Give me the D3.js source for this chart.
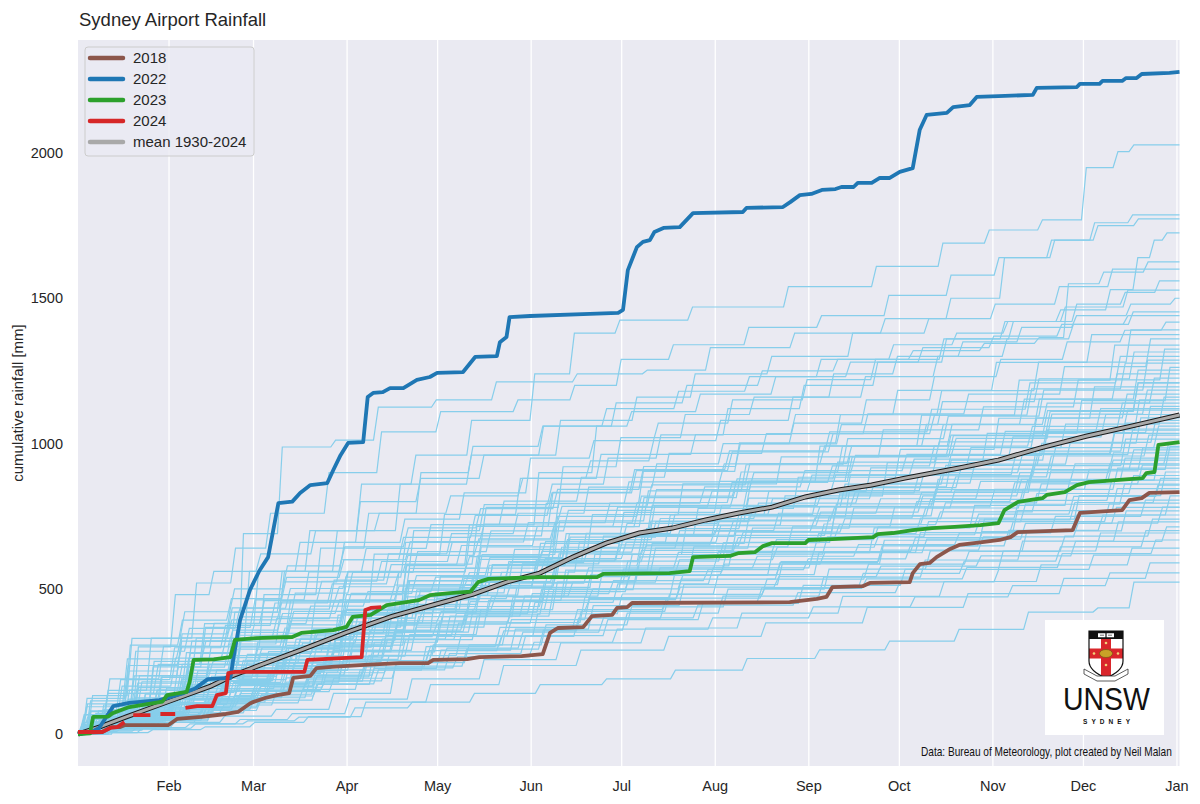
<!DOCTYPE html>
<html lang="en">
<head>
<meta charset="UTF-8">
<title>Sydney Airport Rainfall</title>
<script src="https://d3js.org/d3.v7.min.js"></script>
<style>
  body { margin: 0; background: #fff; }
  svg { display: block; font-family: "Liberation Sans", Arial, sans-serif; }
  .tick text { fill: #262626; }
</style>
</head>
<body>
<svg id="chart" width="1200" height="804"></svg>
<script>
// values are [day after Jan 1, cumulative mm]
const rain2018 = [[1,3],[9,7],[12,24],[15,24],[16.6,31],[31,31],[33.8,52],[42,59],[50,69],[54,76],[58,105],[59,110],[63,124],[67,134],[71,141],[72.3,193],[78,200],[80,227],[85,231],[96,238],[107.7,244],[117,244],[118.7,255],[130,258],[134,265],[148,268],[155,275],[157.4,348],[160,365],[168.4,368],[171.3,406],[178,410],[179.6,434],[183,437],[184.6,451],[236.8,454],[245.8,465],[249,472],[251,506],[261,509],[263.4,520],[276.6,523],[277.6,554],[280,585],[283.2,589],[285.5,609],[290,637],[293,651],[300,660],[306.4,668],[310,678],[312.4,695],[330.6,702],[333,761],[347,771],[349.4,805],[353.5,812],[356,830],[366,833]];

const rain2022 = [[1,0],[5,5],[8,21],[12.7,96],[18,107],[28,117],[36,141],[40,158],[44,189],[51.5,193],[52.4,255],[54.7,392],[58,496],[61,560],[64,609],[67.4,795],[72,800],[74.6,830],[78,857],[83.6,864],[85.6,909],[88,960],[90.5,1002],[95.5,1005],[97,1160],[98.8,1174],[102,1177],[104.4,1191],[108.8,1191],[113.3,1219],[117.6,1229],[120,1243],[128.6,1246],[132.6,1298],[139.8,1301],[140.8,1349],[143,1367],[144,1435],[150.8,1439],[170.6,1446],[180,1450],[181.6,1460],[183.2,1597],[186.2,1676],[188.2,1694],[190.5,1700],[192,1728],[195,1742],[200.4,1745],[204.8,1793],[221.3,1797],[222.5,1811],[234.6,1814],[237,1831],[240.2,1855],[244,1859],[247.5,1873],[252,1876],[254,1883],[258,1883],[259.4,1897],[264,1897],[266.7,1914],[270,1914],[273.3,1935],[277.6,1948],[279.9,2079],[282.2,2131],[288.9,2138],[291,2158],[296.5,2165],[298.8,2193],[306,2196],[317.4,2200],[318.7,2224],[332,2227],[333,2238],[339.5,2238],[340.5,2248],[347,2248],[348.3,2258],[351.8,2258],[353.5,2272],[362.7,2276],[366,2279]];

const rain2023 = [[1,0],[5,2],[6,59],[11,60],[12.5,72],[18,93],[25,105],[29,112],[30.5,134],[37,145],[38,180],[39.3,255],[46,257],[51.5,265],[53,324],[60,330],[72,334],[75,348],[85.6,358],[90,369],[92,403],[98,410],[103.3,444],[114,461],[117.6,478],[124.3,485],[131,490],[133.6,523],[137,534],[154,540],[173,540],[175,551],[197,554],[203.7,561],[204.8,609],[217,613],[220,623],[225.3,626],[228,647],[231,657],[242,657],[243,668],[251,671],[264.5,678],[266,688],[271,692],[277.6,702],[284,709],[291.5,713],[300,719],[306,726],[308,771],[312.5,799],[320.6,812],[322,823],[328,833],[332,857],[336,867],[353.8,881],[355,898],[357.7,902],[359,995],[366,1005]];

// null = missing days
const rain2024 = [[1,7],[9,7],[11.7,21],[14,24],[16.4,41],null,[19.3,65],[25,65],null,[28.3,69],[33.2,69],null,[36.6,90],[40.5,96],[45.5,96],[47,134],[50,141],[50.8,210],[53,214],[76,214],[77,255],[90,262],[95,265],[96.2,427],[98,434],[101.5,437]];

const meanRain = [[1,0],[8,24],[17,59],[31,112],[45,165],[52,200],[59,228],[75,290],[90,350],[105,405],[121,451],[132,482],[143,523],[154,554],[165,609],[176,657],[187,692],[198,709],[209,737],[220,761],[231,781],[242,816],[253,840],[264,857],[275,881],[293,916],[306,943],[320,985],[335,1025],[350,1060],[366,1098]];

// the other years 1930-2024
const otherYears = [
  [[1,0],[8,40],[25,140],[40,240],[58,380],[75,560],[92,700],[110,860],[128,960],[150,1080],[163,1240],[177,1380],[200,1425],[232,1470],[262,1540],[285,1610],[300,1690],[318,1735],[333,1770],[344,1950],[349,2005],[358,2028],[366,2028]],
  [[1,0],[12,60],[30,140],[45,240],[62,690],[72,988],[95,1012],[103,1125],[130,1150],[145,1212],[180,1240],[195,1253],[220,1330],[250,1380],[280,1430],[296,1500],[315,1640],[330,1700],[342,1760],[355,1787],[366,1787]],
  [[1,0],[6,30],[20,150],[35,330],[50,520],[58,640],[78,760],[96,900],[112,1040],[140,1110],[160,1150],[176,1200],[190,1290],[215,1340],[240,1400],[262,1440],[285,1510],[300,1580],[318,1640],[334,1700],[348,1750],[360,1773],[366,1773]],
  [[1,0],[15,60],[32,200],[48,300],[66,480],[85,640],[100,760],[118,900],[135,990],[160,1060],[180,1120],[205,1180],[228,1230],[252,1290],[276,1340],[296,1380],[312,1420],[330,1460],[346,1530],[353,1640],[358,1700],[362,1725],[366,1725]],
  [[1,0],[10,40],[28,140],[45,280],[60,420],[78,560],[95,700],[120,860],[142,960],[168,1060],[190,1140],[215,1200],[240,1250],[265,1290],[290,1320],[312,1345],[326,1365],[331,1550],[350,1590],[360,1625],[366,1625]],
  [[1,0],[18,80],[36,180],[54,330],[70,560],[90,660],[110,800],[130,880],[155,960],[182,1080],[200,1160],[225,1240],[252,1300],[278,1380],[300,1430],[322,1480],[340,1540],[356,1600],[366,1600]],
  [[1,0],[9,70],[24,200],[40,320],[56,420],[74,560],[96,660],[115,740],[135,830],[158,950],[178,1010],[200,1070],[226,1150],[250,1220],[272,1290],[295,1360],[318,1420],[338,1480],[352,1520],[362,1560],[366,1560]],
  [[1,0],[14,50],[31,160],[47,260],[64,340],[82,460],[103,560],[126,700],[150,790],[170,860],[186,950],[206,1030],[232,1120],[256,1200],[281,1280],[300,1360],[320,1420],[340,1470],[362,1528],[366,1528]],
  [[1,0],[7,30],[22,100],[40,240],[57,320],[73,400],[92,540],[112,660],[140,780],[165,920],[183,1020],[205,1100],[228,1160],[255,1240],[275,1300],[297,1350],[316,1400],[334,1440],[352,1480],[366,1500]],
  [[1,0],[12,80],[27,300],[37,480],[52,560],[68,620],[88,700],[110,760],[135,820],[158,880],[180,940],[200,1010],[224,1080],[248,1160],[272,1230],[296,1300],[318,1360],[340,1410],[358,1453],[366,1453]],
  [[1,0],[16,40],[33,120],[50,220],[66,300],[84,390],[104,480],[124,580],[147,720],[170,900],[178,1060],[200,1110],[225,1170],[250,1230],[274,1280],[298,1330],[320,1370],[344,1410],[360,1440],[366,1440]],
  [[1,0],[6,20],[21,120],[38,230],[55,310],[72,430],[90,530],[108,620],[130,690],[152,760],[176,850],[198,930],[220,1000],[244,1070],[268,1150],[290,1230],[312,1290],[334,1350],[352,1390],[364,1418],[366,1418]],
  [[1,0],[11,42],[29,125],[46,209],[62,292],[81,376],[100,459],[123,570],[148,668],[174,793],[205,904],[238,1002],[272,1099],[305,1182],[336,1280],[366,1391]],
  [[1,0],[6,28],[24,83],[41,151],[57,220],[76,316],[95,454],[118,619],[143,756],[169,880],[200,963],[233,1031],[267,1100],[300,1183],[331,1279],[366,1375]],
  [[1,0],[14,82],[32,231],[49,367],[65,462],[84,558],[103,639],[126,721],[151,802],[177,884],[208,966],[241,1034],[275,1102],[308,1170],[339,1265],[366,1360]],
  [[1,0],[8,27],[26,67],[43,121],[59,174],[78,254],[97,335],[120,428],[145,536],[171,656],[202,763],[235,870],[269,991],[302,1098],[333,1218],[366,1339]],
  [[1,0],[13,40],[31,119],[48,199],[64,278],[83,358],[102,437],[125,543],[150,636],[176,755],[207,861],[240,954],[274,1047],[307,1126],[338,1219],[366,1325]],
  [[1,0],[9,132],[27,329],[44,421],[60,500],[79,579],[98,644],[121,710],[146,776],[172,842],[203,921],[236,999],[270,1065],[303,1144],[334,1223],[366,1315]],
  [[1,0],[15,26],[33,78],[50,143],[66,208],[85,299],[104,429],[127,585],[152,715],[178,832],[209,910],[242,975],[276,1040],[309,1118],[340,1209],[366,1300]],
  [[1,0],[5,39],[23,116],[40,193],[56,270],[75,347],[94,425],[117,528],[142,618],[168,734],[199,837],[232,927],[266,1017],[299,1094],[330,1184],[366,1287]],
  [[1,0],[10,77],[28,217],[45,345],[61,434],[80,524],[99,600],[122,677],[147,753],[173,830],[204,907],[237,971],[271,1034],[304,1098],[335,1188],[366,1277]],
  [[1,0],[12,25],[30,63],[47,114],[63,164],[82,240],[101,316],[124,404],[149,505],[175,618],[206,719],[239,820],[273,934],[306,1035],[337,1148],[366,1262]],
  [[1,0],[7,38],[25,113],[42,188],[58,263],[77,338],[96,413],[119,514],[144,601],[170,714],[201,814],[234,902],[268,990],[301,1065],[332,1153],[366,1253]],
  [[1,0],[11,25],[29,74],[46,136],[62,198],[81,285],[100,409],[123,558],[148,682],[174,794],[205,868],[238,930],[272,992],[305,1066],[336,1153],[366,1240]],
  [[1,0],[4,123],[22,306],[39,392],[55,466],[74,539],[93,600],[116,662],[141,723],[167,784],[198,858],[231,931],[265,992],[298,1066],[329,1139],[366,1225]],
  [[1,0],[14,36],[32,109],[49,181],[65,254],[84,326],[103,399],[126,495],[151,580],[177,689],[208,785],[241,870],[275,954],[308,1027],[339,1111],[366,1208]],
  [[1,0],[6,24],[24,60],[41,108],[57,155],[76,227],[95,299],[118,382],[143,478],[169,586],[200,681],[233,777],[267,884],[300,980],[331,1087],[366,1195]],
  [[1,0],[9,71],[27,201],[44,320],[60,403],[79,485],[98,556],[121,628],[146,699],[172,770],[203,841],[236,900],[270,959],[303,1018],[334,1101],[366,1184]],
  [[1,0],[13,23],[31,70],[48,129],[64,187],[83,269],[102,386],[125,527],[150,644],[176,749],[207,819],[240,878],[274,936],[307,1006],[338,1088],[366,1170]],
  [[1,0],[8,35],[26,104],[43,174],[59,244],[78,313],[97,383],[120,476],[145,557],[171,661],[202,754],[235,835],[269,916],[302,986],[333,1067],[366,1160]],
  [[1,0],[11,23],[29,58],[46,104],[62,150],[81,219],[100,288],[123,368],[148,460],[174,564],[205,656],[238,748],[272,851],[305,943],[336,1047],[366,1150]],
  [[1,0],[15,114],[33,285],[50,364],[66,433],[85,501],[104,558],[127,615],[152,672],[178,729],[209,797],[242,866],[276,923],[309,991],[340,1059],[366,1139]],
  [[1,0],[5,34],[23,102],[40,169],[56,237],[75,305],[94,372],[117,462],[142,541],[168,643],[199,733],[232,812],[266,891],[299,959],[330,1038],[366,1128]],
  [[1,0],[10,22],[28,67],[45,123],[61,178],[80,256],[99,368],[122,502],[147,613],[173,714],[204,781],[237,836],[271,892],[304,959],[335,1037],[366,1115]],
  [[1,0],[12,66],[30,187],[47,297],[63,374],[82,451],[101,517],[124,583],[149,649],[175,715],[206,781],[239,836],[273,891],[306,946],[337,1023],[366,1100]],
  [[1,0],[7,33],[25,98],[42,163],[58,228],[77,294],[96,359],[119,446],[144,522],[170,620],[201,707],[234,783],[268,860],[301,925],[332,1001],[366,1088]],
  [[1,0],[14,21],[32,54],[49,96],[65,139],[84,203],[103,268],[126,342],[151,428],[177,524],[208,610],[241,696],[275,792],[308,877],[339,974],[366,1070]],
  [[1,0],[6,21],[24,64],[41,117],[57,170],[76,244],[95,350],[118,477],[143,583],[169,678],[200,742],[233,795],[267,848],[300,912],[331,986],[366,1060]],
  [[1,0],[9,31],[27,94],[44,157],[60,220],[79,282],[98,345],[121,429],[146,502],[172,596],[203,680],[236,753],[270,826],[303,889],[334,962],[366,1046]],
  [[1,0],[13,104],[31,259],[48,331],[64,393],[83,455],[102,507],[125,559],[150,611],[176,662],[207,725],[240,787],[274,838],[307,900],[338,963],[366,1035]],
  [[1,0],[8,62],[26,175],[43,278],[59,350],[78,422],[97,484],[120,545],[145,607],[171,669],[202,731],[235,782],[269,833],[302,885],[333,957],[366,1029]],
  [[1,0],[11,20],[29,51],[46,91],[62,132],[81,193],[100,254],[123,325],[148,406],[174,497],[205,579],[238,660],[272,751],[305,832],[336,924],[366,1015]],
  [[1,0],[15,30],[33,89],[50,149],[66,208],[85,267],[104,327],[127,406],[152,475],[178,564],[209,644],[242,713],[276,782],[309,842],[340,911],[366,990]],
  [[1,0],[5,20],[23,59],[40,108],[56,156],[75,225],[94,323],[117,440],[142,538],[168,626],[199,685],[232,734],[266,782],[299,841],[330,910],[366,978]],
  [[1,0],[10,58],[28,165],[45,261],[61,329],[80,397],[99,455],[122,513],[147,571],[173,629],[204,687],[237,736],[271,784],[304,832],[335,900],[366,968]],
  [[1,0],[12,19],[30,48],[47,86],[63,125],[82,182],[101,240],[124,307],[149,384],[175,470],[206,547],[239,624],[273,710],[306,787],[337,874],[366,960]],
  [[1,0],[7,29],[25,86],[42,143],[58,200],[77,257],[96,314],[119,390],[144,456],[170,542],[201,618],[234,684],[268,751],[301,808],[332,874],[366,950]],
  [[1,0],[14,94],[32,236],[49,302],[65,358],[84,415],[103,462],[126,509],[151,556],[177,604],[208,660],[241,717],[275,764],[308,820],[339,877],[366,943]],
  [[1,0],[6,19],[24,56],[41,102],[57,148],[76,213],[95,306],[118,417],[143,509],[169,593],[200,648],[233,695],[267,741],[300,796],[331,861],[366,926]],
  [[1,0],[9,27],[27,82],[44,137],[60,192],[79,247],[98,302],[121,375],[146,439],[172,522],[203,595],[236,659],[270,723],[303,778],[334,842],[366,915]],
  [[1,0],[13,18],[31,45],[48,81],[64,117],[83,171],[102,226],[125,289],[150,361],[176,442],[207,514],[240,586],[274,667],[307,740],[338,821],[366,902]],
  [[1,0],[8,53],[26,151],[43,240],[59,303],[78,365],[97,418],[120,472],[145,525],[171,579],[202,632],[235,676],[269,721],[302,765],[333,828],[366,890]],
  [[1,0],[11,26],[29,79],[46,131],[62,184],[81,236],[100,288],[123,358],[148,420],[174,498],[205,568],[238,629],[272,690],[305,743],[336,804],[366,874]],
  [[1,0],[15,17],[33,51],[50,94],[66,137],[85,197],[104,283],[127,386],[152,471],[178,548],[209,600],[242,643],[276,686],[309,737],[340,797],[366,857]],
  [[1,0],[5,17],[23,42],[40,76],[56,110],[75,161],[94,211],[117,270],[142,338],[168,414],[199,482],[232,549],[266,625],[299,693],[330,769],[366,845]],
  [[1,0],[10,25],[28,74],[45,123],[61,172],[80,221],[99,271],[122,336],[147,394],[173,467],[204,533],[237,590],[271,648],[304,697],[335,754],[366,820]],
  [[1,0],[12,48],[30,137],[47,217],[63,274],[82,330],[101,378],[124,427],[149,475],[175,523],[206,572],[239,612],[273,652],[306,692],[337,749],[366,805]],
  [[1,0],[7,24],[25,72],[42,119],[58,167],[77,215],[96,262],[119,326],[144,382],[170,453],[201,517],[234,572],[268,628],[301,676],[332,731],[366,795]],
  [[1,0],[14,78],[32,195],[49,250],[65,297],[84,344],[103,383],[126,422],[151,461],[177,500],[208,547],[241,594],[275,633],[308,679],[339,726],[366,781]],
  [[1,0],[6,15],[24,38],[41,69],[57,100],[76,146],[95,192],[118,246],[143,307],[169,376],[200,438],[233,499],[267,568],[300,630],[331,699],[366,768]],
  [[1,0],[9,15],[27,45],[44,83],[60,121],[79,173],[98,249],[121,339],[146,415],[172,483],[203,528],[236,566],[270,603],[303,648],[334,701],[366,754]],
  [[1,0],[13,22],[31,67],[48,111],[64,155],[83,200],[102,244],[125,303],[150,355],[176,422],[207,481],[240,533],[274,585],[307,629],[338,681],[366,740]],
  [[1,0],[8,8],[26,20],[43,40],[59,62],[78,85],[97,140],[120,234],[145,292],[171,358],[202,416],[235,475],[269,540],[302,599],[333,664],[366,730]],
  [[1,0],[11,43],[29,121],[46,193],[62,242],[81,292],[100,335],[123,378],[148,421],[174,463],[205,506],[238,542],[272,578],[305,613],[336,663],[366,713]],
  [[1,0],[15,21],[33,63],[50,105],[66,147],[85,189],[104,231],[127,287],[152,336],[178,399],[209,455],[242,504],[276,553],[309,595],[340,644],[366,700]],
  [[1,0],[5,14],[23,35],[40,62],[56,90],[75,131],[94,173],[117,221],[142,277],[168,339],[199,394],[232,450],[266,512],[299,567],[330,630],[366,692]],
  [[1,0],[10,13],[28,40],[45,73],[61,107],[80,154],[99,220],[122,301],[147,367],[173,428],[204,468],[237,501],[271,534],[304,574],[335,621],[366,668]],
  [[1,0],[12,10],[30,22],[47,35],[63,50],[82,70],[101,120],[124,190],[149,256],[175,314],[206,365],[239,416],[273,474],[306,525],[337,582],[366,640]],
  [[1,0],[7,18],[25,55],[42,92],[58,129],[77,166],[96,203],[119,253],[144,296],[170,351],[201,400],[234,444],[268,487],[301,524],[332,567],[366,616]],
  [[1,0],[14,5],[32,15],[49,25],[65,40],[84,60],[103,110],[126,170],[151,236],[177,289],[208,336],[241,383],[275,436],[308,483],[339,536],[366,589]],
  [[1,0],[6,17],[24,50],[41,83],[57,117],[76,150],[95,183],[118,228],[143,266],[169,316],[200,361],[233,400],[267,438],[300,472],[331,511],[366,555]],
  [[1,0],[8,5],[25,20],[43,35],[60,45],[77,58],[96,90],[115,110],[136,140],[158,170],[180,190],[203,220],[227,260],[251,290],[274,320],[297,360],[320,420],[343,434],[352,523],[366,523]],
  [[1,0],[12,36],[30,109],[47,182],[63,254],[82,327],[101,399],[124,496],[149,581],[175,690],[206,787],[239,871],[273,956],[306,1029],[337,1113],[366,1210]],
  [[1,0],[7,67],[25,190],[42,302],[58,381],[77,459],[96,526],[119,594],[144,661],[170,728],[201,795],[234,851],[268,907],[301,963],[332,1042],[366,1120]],
  [[1,0],[14,22],[32,65],[49,119],[65,173],[84,248],[103,356],[126,486],[151,594],[177,691],[208,756],[241,810],[275,864],[308,929],[339,1004],[366,1080]],
  [[1,0],[5,32],[23,95],[40,158],[56,221],[75,284],[94,347],[117,431],[142,504],[168,599],[199,683],[232,756],[266,830],[299,893],[330,966],[366,1050]],
  [[1,0],[10,100],[28,250],[45,320],[61,380],[80,440],[99,490],[122,540],[147,590],[173,640],[204,700],[237,760],[271,810],[304,870],[335,930],[366,1000]],
  [[1,0],[11,30],[29,89],[46,148],[62,207],[81,266],[100,325],[123,404],[148,473],[174,561],[205,640],[238,709],[272,778],[305,837],[336,906],[366,985]],
  [[1,0],[8,19],[26,56],[43,102],[59,149],[78,214],[97,307],[120,419],[145,512],[171,595],[202,651],[235,698],[269,744],[302,800],[333,865],[366,930]],
  [[1,0],[13,53],[31,150],[48,238],[64,299],[83,361],[102,414],[125,466],[150,519],[176,572],[207,625],[240,669],[274,713],[307,757],[338,818],[366,880]],
  [[1,0],[6,26],[24,77],[41,129],[57,181],[76,232],[95,284],[118,353],[143,413],[169,490],[200,559],[233,619],[267,679],[300,731],[331,791],[366,860]],
  [[1,0],[15,16],[33,47],[50,86],[66,125],[85,179],[104,257],[127,351],[152,429],[178,499],[209,546],[242,585],[276,624],[309,671],[340,725],[366,780]]
];

const yTicks = [0, 500, 1000, 1500, 2000];
const legendLabels = ["2018", "2022", "2023", "2024", "mean 1930-2024"];
const legendColors = ["#8c564b", "#1f77b4", "#2ca02c", "#d62728", "#a9a9a9"];

const width = 1200, height = 804;
const margin = {top: 40, right: 20.5, bottom: 38, left: 78};

const svg = d3.select("#chart");

const start = Date.UTC(2018, 0, 1);
const toDate = day => new Date(start + day * 864e5);

const x = d3.scaleUtc()
    .domain([toDate(1), toDate(366)])
    .range([margin.left, width - margin.right]);

const y = d3.scaleLinear()
    .domain([-110, 2389])
    .range([height - margin.bottom, margin.top]);

// plot background
svg.append("rect")
    .attr("x", margin.left).attr("y", margin.top)
    .attr("width", width - margin.left - margin.right)
    .attr("height", height - margin.top - margin.bottom)
    .attr("fill", "#eaeaf2");

// vertical grid at month starts
const months = d3.utcMonth.range(toDate(1), toDate(366.5));
svg.append("g")
    .attr("transform", `translate(0,${height - margin.bottom})`)
    .call(d3.axisBottom(x).tickValues(months).tickSize(-(height - margin.top - margin.bottom)).tickFormat(""))
    .call(g => g.select(".domain").remove())
    .call(g => g.selectAll("line").attr("stroke", "#fff").attr("stroke-width", 1.3));

const plot = svg.append("g");

const line = d3.line()
    .defined(d => d !== null)
    .x(d => x(toDate(d[0])))
    .y(d => y(d[1]));

// each reading step is drawn as a plateau and a short rise;
// where the rise falls between two readings differs from year to year
function stepped(points, frac) {
  const out = [];
  points.forEach((p, i) => {
    out.push(p);
    const q = points[i + 1];
    if (!q) return;
    const gap = q[0] - p[0];
    const half = Math.min(0.8, gap / 4);
    const m = p[0] + Math.max(half, Math.min(gap - half, frac * gap));
    out.push([m - half, p[1]], [m + half, q[1]]);
  });
  return out;
}

plot.selectAll(".year")
    .data(otherYears)
    .join("path")
    .attr("class", "year")
    .attr("d", (d, i) => line(stepped(d, 0.12 + 0.76 * ((i * 0.6180339) % 1))))
    .attr("fill", "none")
    .attr("stroke", "#87ceeb")
    .attr("stroke-width", 1.2);

// mean, black edge with grey core
plot.append("path").attr("d", line(meanRain))
    .attr("fill", "none").attr("stroke", "#1a1a1a").attr("stroke-width", 5);
plot.append("path").attr("d", line(meanRain))
    .attr("fill", "none").attr("stroke", "#a9a9a9").attr("stroke-width", 3);

const highlight = [
  {data: rain2018, color: legendColors[0]},
  {data: rain2022, color: legendColors[1]},
  {data: rain2023, color: legendColors[2]},
  {data: rain2024, color: legendColors[3]}
];

highlight.forEach(s => {
  plot.append("path")
      .attr("d", line(s.data))
      .attr("fill", "none")
      .attr("stroke", s.color)
      .attr("stroke-width", 3.8)
      .attr("stroke-linejoin", "round");
});

// axes
svg.append("g")
    .attr("transform", `translate(${margin.left},0)`)
    .call(d3.axisLeft(y).tickValues(yTicks).tickFormat(d3.format("d")).tickSize(0).tickPadding(15))
    .call(g => g.select(".domain").remove())
    .call(g => g.selectAll("text").attr("font-size", 14.5).attr("font-family", "Liberation Sans, Arial, sans-serif"));

svg.append("g")
    .attr("transform", `translate(0,${height - margin.bottom})`)
    .call(d3.axisBottom(x).tickValues(months).tickSize(0).tickPadding(14.5).tickFormat(d3.utcFormat("%b")))
    .call(g => g.select(".domain").remove())
    .call(g => g.selectAll("text").attr("font-size", 14.5).attr("font-family", "Liberation Sans, Arial, sans-serif"));

svg.append("text")
    .attr("transform", `translate(23,${(margin.top + height - margin.bottom) / 2}) rotate(-90)`)
    .attr("text-anchor", "middle")
    .attr("font-size", 15)
    .attr("fill", "#262626")
    .text("cumulative rainfall [mm]");

svg.append("text")
    .attr("x", 79).attr("y", 26)
    .attr("font-size", 18.5)
    .attr("fill", "#262626")
    .text("Sydney Airport Rainfall");

// legend
const legend = svg.append("g");
legend.append("rect")
    .attr("x", 85).attr("y", 47).attr("width", 169).attr("height", 109)
    .attr("rx", 3)
    .attr("fill", "#eaeaf2").attr("fill-opacity", 0.8)
    .attr("stroke", "#cccccc").attr("stroke-width", 1);

const rows = legend.selectAll(".row")
    .data(legendLabels)
    .join("g")
    .attr("class", "row")
    .attr("transform", (d, i) => `translate(0,${58 + i * 21})`);

rows.append("line")
    .attr("x1", 90).attr("x2", 123)
    .attr("stroke", (d, i) => legendColors[i])
    .attr("stroke-width", 4.5)
    .attr("stroke-linecap", "round");

rows.append("text")
    .attr("x", 133).attr("y", 5.3)
    .attr("font-size", 15)
    .attr("fill", "#262626")
    .text(d => d);

// squeeze a text horizontally so it spans the given width
function condensed(parent, txt, x0, y0, size, targetWidth) {
  const g = parent.append("g");
  const t = g.append("text")
      .attr("font-family", "Liberation Sans Narrow, Liberation Sans, Arial, sans-serif")
      .attr("font-size", size)
      .attr("fill", "#111")
      .text(txt);
  const w = t.node().getComputedTextLength();
  g.attr("transform", `translate(${x0},${y0}) scale(${targetWidth / w},1)`);
  return t;
}

// UNSW logo
const logo = svg.append("g");
logo.append("rect")
    .attr("x", 1045).attr("y", 620).attr("width", 119).attr("height", 115)
    .attr("fill", "#fff");

const shield = logo.append("g").attr("transform", "translate(1106,631)");
const shieldPath = "M-17,0H17V30Q17,40 0,47Q-17,40 -17,30Z";
shield.append("clipPath").attr("id", "shieldClip")
    .append("path").attr("d", shieldPath);
const inner = shield.append("g").attr("clip-path", "url(#shieldClip)");
inner.append("rect").attr("x", -17).attr("y", 0).attr("width", 34).attr("height", 47).attr("fill", "#fff");
inner.append("rect").attr("x", -5).attr("y", 8).attr("width", 10).attr("height", 40).attr("fill", "#d9262b");
inner.append("rect").attr("x", -17).attr("y", 17.5).attr("width", 34).attr("height", 10).attr("fill", "#d9262b");
inner.append("rect").attr("x", -17).attr("y", 0).attr("width", 34).attr("height", 8).attr("fill", "#111");
// open book on the chief
inner.append("path").attr("d", "M-8,2.2H-0.6V6.2H-8Z M0.6,2.2H8V6.2H0.6Z").attr("fill", "#fff");
inner.append("path").attr("d", "M-6,4.2H-2 M2,4.2H6").attr("stroke", "#111").attr("stroke-width", 0.6);
// lion and stars
inner.append("ellipse").attr("cx", 0).attr("cy", 22.5).attr("rx", 6.5).attr("ry", 4)
    .attr("fill", "#c9a227").attr("stroke", "#6b4f12").attr("stroke-width", 0.6);
[[0, 12], [0, 34], [-12, 22.5], [12, 22.5]].forEach(p => {
  inner.append("circle").attr("cx", p[0]).attr("cy", p[1]).attr("r", 1.3).attr("fill", "#f2d27a");
});
shield.append("path").attr("d", shieldPath)
    .attr("fill", "none").attr("stroke", "#111").attr("stroke-width", 1.2);
// motto scroll
shield.append("path")
    .attr("d", "M-22,38L-9,45L9,45L22,38L22,43L9,50L-9,50L-22,43Z")
    .attr("fill", "#fff").attr("stroke", "#333").attr("stroke-width", 0.8);

condensed(logo, "UNSW", 1063, 710, 31, 87);

logo.append("text")
    .attr("x", 1083).attr("y", 724)
    .attr("font-size", 6.5)
    .attr("font-weight", "bold")
    .attr("textLength", 47).attr("lengthAdjust", "spacing")
    .attr("fill", "#111")
    .text("SYDNEY");

condensed(svg, "Data: Bureau of Meteorology, plot created by Neil Malan", 921, 756, 12.5, 251);
</script>
</body>
</html>
